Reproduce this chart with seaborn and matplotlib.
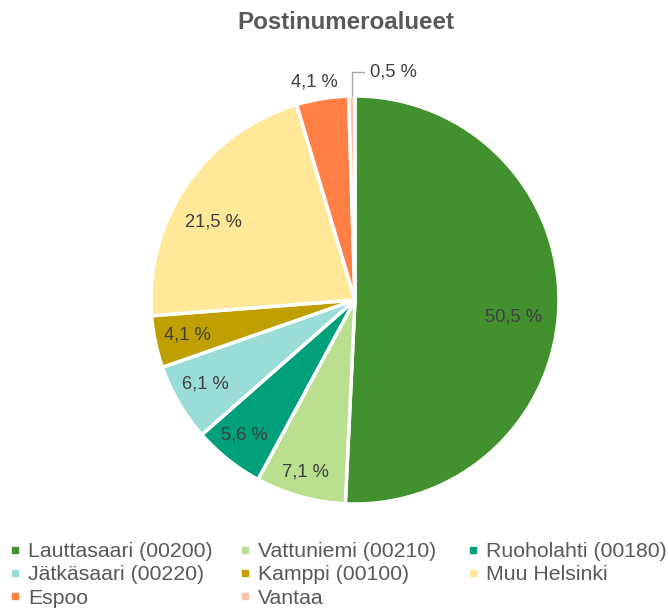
import numpy as np
import matplotlib
matplotlib.use("Agg")
import matplotlib.pyplot as plt
from matplotlib.lines import Line2D
import seaborn as sns

categories = ["Lauttasaari (00200)", "Vattuniemi (00210)", "Ruoholahti (00180)",
              "Jätkäsaari (00220)", "Kamppi (00100)", "Muu Helsinki",
              "Espoo", "Vantaa"]
values = [50.5, 7.1, 5.6, 6.1, 4.1, 21.5, 4.1, 0.5]
value_labels = ["50,5 %", "7,1 %", "5,6 %", "6,1 %", "4,1 %", "21,5 %", "4,1 %", "0,5 %"]
title = "Postinumeroalueet"

colors = ["#43902F", "#B9DF8F", "#00A07A", "#9ADCD8", "#C09F00", "#FFE999", "#FF7F45", "#FFC4A8"]
# label placement style (radial distance, angular nudge in degrees)
label_dist = [0.783, 0.878, 0.854, 0.843, 0.842, 0.794, 1.087, None]
label_nudge = [-4.7, -0.6, -0.7, -1.0, 0.0, 5.7, 1.2, 0.0]

sns.set_theme(style="white")
plt.rcParams['font.family'] = ['Liberation Sans', 'DejaVu Sans']

fig = plt.figure(figsize=(6.68, 6.10), dpi=100)
W, H = 668, 610
cx, cy, r = 355, 300, 204
ax = fig.add_axes([(cx - r) / W, (H - cy - r) / H, 2 * r / W, 2 * r / H])

wedges, _ = ax.pie(values, colors=colors, startangle=90, counterclock=False,
                   radius=1.0, wedgeprops=dict(edgecolor="white", linewidth=2.5))
ax.set_xlim(-1, 1)
ax.set_ylim(-1, 1)
ax.set_aspect("equal")
ax.axis("off")

for w, lab, d, nd in zip(wedges, value_labels, label_dist, label_nudge):
    ang = np.deg2rad((w.theta1 + w.theta2) / 2 + nd)
    if d is None:
        x0, y0 = np.cos(ang), np.sin(ang)
        ax.annotate(lab, xy=(x0, y0), xytext=(0.074, 1.118), fontsize=13.2, color="#404040",
                    ha="left", va="center",
                    arrowprops=dict(arrowstyle="-", color="#A6A6A6", lw=1,
                                    connectionstyle="angle,angleA=0,angleB=90,rad=0",
                                    shrinkA=2, shrinkB=0))
    else:
        ax.text(np.cos(ang) * d, np.sin(ang) * d, lab, ha="center", va="center",
                fontsize=13.2, color="#404040")

fig.text(346 / W, 0.963, title, ha="center", va="center", fontsize=17.4,
         fontweight="bold", color="#595959")

handles = [Line2D([0], [0], marker="s", linestyle="none", markersize=5,
                  markerfacecolor=c, markeredgecolor=c) for c in colors]
col_x = [9, 239, 467]
for j in range(3):
    idx = list(range(j, len(categories), 3))
    fig.legend([handles[i] for i in idx], [categories[i] for i in idx],
               loc="upper left", bbox_to_anchor=(col_x[j] / W, (H - 542) / H),
               ncol=1, frameon=False, fontsize=15.3, labelcolor="#595959",
               handlelength=0.6, handletextpad=0.3,
               labelspacing=0.21, borderaxespad=0, borderpad=0)

fig.savefig("out.png", dpi=100, facecolor="white")
